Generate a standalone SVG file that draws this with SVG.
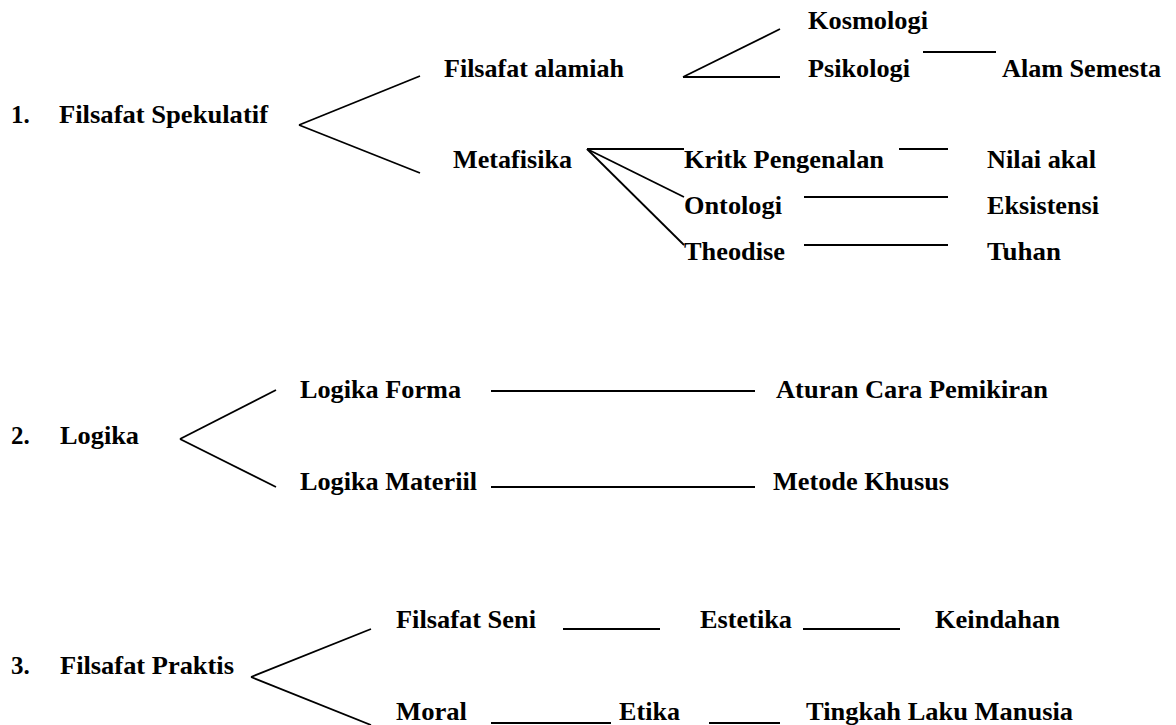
<svg xmlns="http://www.w3.org/2000/svg" width="1176" height="725" viewBox="0 0 1176 725">
<style>
text{font-family:"Liberation Serif","Times New Roman",serif;font-weight:bold;font-size:25px;fill:#000}
.c line{stroke:#000;stroke-width:1.8;fill:none}
.c line.u{stroke-width:2}
</style>
<rect width="1176" height="725" fill="#fff"/>
<g class="c" id="connectors">
<line x1="299" y1="125" x2="420" y2="76"/>
<line x1="299" y1="125" x2="420" y2="173"/>
<line x1="683" y1="77" x2="780" y2="29"/>
<line x1="683" y1="77" x2="780" y2="77"/>
<line x1="923" y1="52" x2="996" y2="52"/>
<line x1="587" y1="149" x2="684" y2="149"/>
<line x1="587" y1="149" x2="684" y2="197"/>
<line x1="587" y1="149" x2="684" y2="245"/>
<line x1="899" y1="149" x2="948" y2="149"/>
<line x1="804" y1="197" x2="948" y2="197"/>
<line x1="804" y1="245" x2="948" y2="245"/>
<line x1="180" y1="439" x2="276" y2="390"/>
<line x1="180" y1="439" x2="276" y2="487"/>
<line x1="491" y1="391" x2="755" y2="391"/>
<line x1="491" y1="487" x2="755" y2="487"/>
<line x1="251" y1="677" x2="371" y2="629"/>
<line x1="251" y1="677" x2="371" y2="725"/>
<line class="u" x1="563" y1="629" x2="660" y2="629"/>
<line class="u" x1="803" y1="629" x2="900" y2="629"/>
<line class="u" x1="491" y1="723" x2="611" y2="723"/>
<line class="u" x1="709" y1="723" x2="780" y2="723"/>
</g>
<g id="n-spekulatif"><text x="11" y="123">1.</text><text x="59" y="123" textLength="209" lengthAdjust="spacingAndGlyphs">Filsafat Spekulatif</text></g>
<g id="n-alamiah"><text x="444" y="77" textLength="180" lengthAdjust="spacingAndGlyphs">Filsafat alamiah</text></g>
<g id="n-kosmologi"><text x="808" y="29" textLength="120" lengthAdjust="spacingAndGlyphs">Kosmologi</text></g>
<g id="n-psikologi"><text x="808" y="77" textLength="102" lengthAdjust="spacingAndGlyphs">Psikologi</text></g>
<g id="n-alam"><text x="1002" y="77" textLength="159" lengthAdjust="spacingAndGlyphs">Alam Semesta</text></g>
<g id="n-metafisika"><text x="453" y="168" textLength="119" lengthAdjust="spacingAndGlyphs">Metafisika</text></g>
<g id="n-kritik"><text x="684" y="168" textLength="200" lengthAdjust="spacingAndGlyphs">Kritk Pengenalan</text></g>
<g id="n-nilai"><text x="987" y="168" textLength="109" lengthAdjust="spacingAndGlyphs">Nilai akal</text></g>
<g id="n-ontologi"><text x="684" y="214" textLength="98" lengthAdjust="spacingAndGlyphs">Ontologi</text></g>
<g id="n-eksistensi"><text x="987" y="214" textLength="112" lengthAdjust="spacingAndGlyphs">Eksistensi</text></g>
<g id="n-theodise"><text x="684" y="260" textLength="101" lengthAdjust="spacingAndGlyphs">Theodise</text></g>
<g id="n-tuhan"><text x="987" y="260" textLength="74" lengthAdjust="spacingAndGlyphs">Tuhan</text></g>
<g id="n-logika"><text x="11" y="444">2.</text><text x="60" y="444" textLength="79" lengthAdjust="spacingAndGlyphs">Logika</text></g>
<g id="n-forma"><text x="300" y="398" textLength="161" lengthAdjust="spacingAndGlyphs">Logika Forma</text></g>
<g id="n-aturan"><text x="776" y="398" textLength="272" lengthAdjust="spacingAndGlyphs">Aturan Cara Pemikiran</text></g>
<g id="n-materiil"><text x="300" y="490" textLength="177" lengthAdjust="spacingAndGlyphs">Logika Materiil</text></g>
<g id="n-metode"><text x="773" y="490" textLength="176" lengthAdjust="spacingAndGlyphs">Metode Khusus</text></g>
<g id="n-praktis"><text x="11" y="674">3.</text><text x="60" y="674" textLength="174" lengthAdjust="spacingAndGlyphs">Filsafat Praktis</text></g>
<g id="n-seni"><text x="396" y="628" textLength="140" lengthAdjust="spacingAndGlyphs">Filsafat Seni</text></g>
<g id="n-estetika"><text x="700" y="628" textLength="92" lengthAdjust="spacingAndGlyphs">Estetika</text></g>
<g id="n-keindahan"><text x="935" y="628" textLength="125" lengthAdjust="spacingAndGlyphs">Keindahan</text></g>
<g id="n-moral"><text x="396" y="720" textLength="71" lengthAdjust="spacingAndGlyphs">Moral</text></g>
<g id="n-etika"><text x="619" y="720" textLength="61" lengthAdjust="spacingAndGlyphs">Etika</text></g>
<g id="n-tingkah"><text x="806" y="720" textLength="267" lengthAdjust="spacingAndGlyphs">Tingkah Laku Manusia</text></g>
</svg>
